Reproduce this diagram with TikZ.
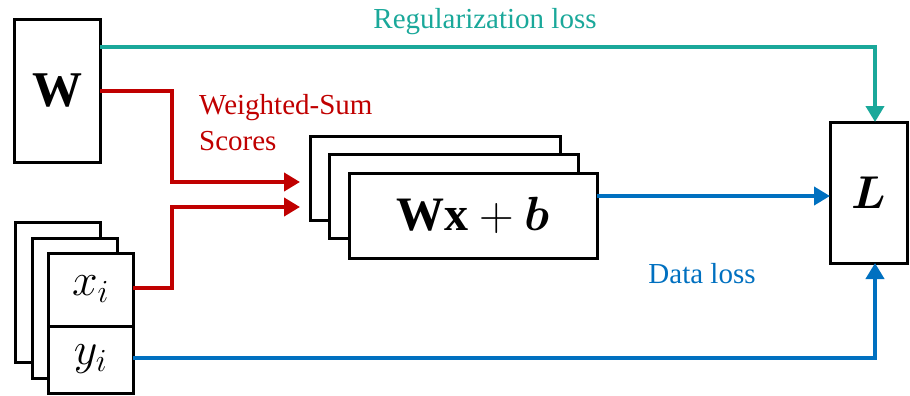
\RequirePackage{fix-cm}
\documentclass[tikz,border=0pt]{standalone}
\usepackage{fontspec}
\usepackage{bm}
\setmainfont{Liberation Serif}
\usetikzlibrary{arrows.meta}
\definecolor{tealc}{RGB}{26,168,154}
\definecolor{redc}{RGB}{192,0,0}
\definecolor{bluec}{RGB}{0,112,192}
\tikzset{
  box/.style={draw=black, line width=3pt, fill=white, inner sep=0pt, outer sep=0pt},
  conn/.style={line width=4pt, -{Triangle[length=16pt,width=18pt]}},
  lbl/.style={font=\fontsize{29}{34}\selectfont, inner sep=0pt},
  mathtxt/.style={font=\fontsize{46}{50}\selectfont}
}
\begin{document}
\begin{tikzpicture}[x=1pt,y=-1pt]
\useasboundingbox (0,0) rectangle (910,396);
% W box
\node[box, minimum width=86pt, minimum height=142pt, font=\fontsize{50}{54}\selectfont] (W) at (57,91) {$\mathbf{W}$};
% x y stack
\node[box, minimum width=85pt, minimum height=140pt] (s1) at (57.5,292) {};
\node[box, minimum width=85pt, minimum height=140pt] (s2) at (74.5,308) {};
\node[box, minimum width=85pt, minimum height=73pt, mathtxt] (xi) at (90.5,289.5) {$x_i$};
\node[box, minimum width=85pt, minimum height=67pt, mathtxt] (yi) at (90.5,359.5) {$y_i$};
% Wx+b stack
\node[box, minimum width=250pt, minimum height=84pt] (w1) at (435,178) {};
\node[box, minimum width=249pt, minimum height=84pt] (w2) at (453.5,196) {};
\node[box, minimum width=248pt, minimum height=85pt, font=\fontsize{48}{52}\selectfont] (w3) at (473,215.5) {$\mathbf{Wx}+\bm{b}$};
% L box
\node[box, minimum width=77pt, minimum height=141pt, mathtxt] (L) at (868.5,192.5) {$\bm{L}$};
% connectors
\draw[conn, tealc] ([yshift=44pt]W.east) -| ([xshift=6.5pt]L.north);
\draw[conn, redc] (W.east) -- ++(72,0) |- ([xshift=-10pt,yshift=-4pt]w1.west);
\draw[conn, redc] ([yshift=2pt]xi.east) -- ++(39,0) |- ([xshift=-10pt,yshift=-29pt]w1.west);
\draw[conn, bluec] ([yshift=19.5pt]w3.east) -- ([yshift=-3.5pt]L.west);
\draw[conn, bluec] ([yshift=1.5pt]yi.east) -| ([xshift=6.5pt]L.south);
% labels
\node[lbl, text=tealc] (reg) at (485,22) {Regularization loss};
\node[lbl, text=redc, anchor=west, align=left, font=\fontsize{29}{36}\selectfont] (ws) at (199,123) {Weighted-Sum\\Scores};
\node[lbl, text=bluec] (dl) at (702,274) {Data loss};
\end{tikzpicture}
\end{document}
